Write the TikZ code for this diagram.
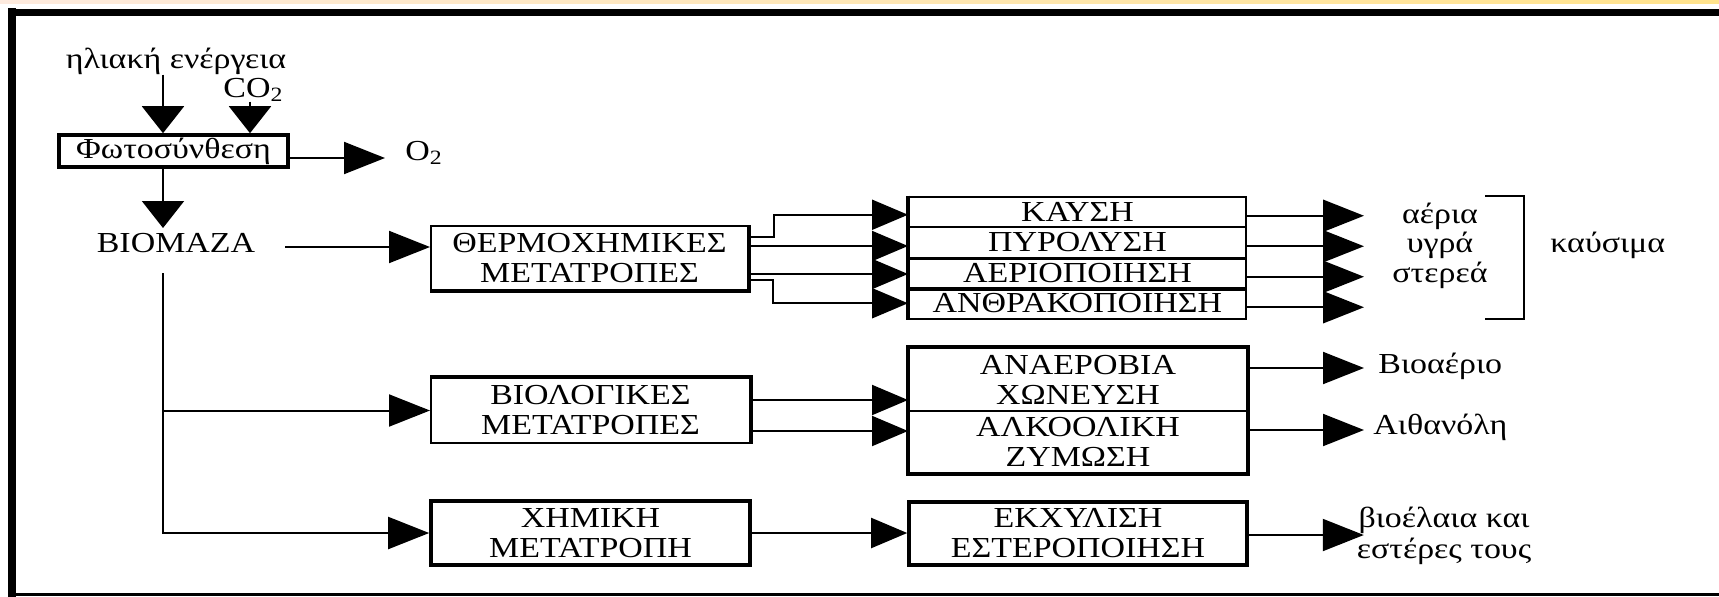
\documentclass[tikz,border=0pt]{standalone}
\usepackage{fontspec}
\setmainfont{Liberation Serif}[FakeStretch=1.17]
\usetikzlibrary{arrows.meta}
\definecolor{stripL}{RGB}{253,234,222}
\definecolor{stripR}{RGB}{255,227,140}
\begin{document}
\begin{tikzpicture}[x=0.5pt,y=-0.5pt,
  txt/.style={inner sep=0pt, font=\fontsize{14.5}{15}\selectfont},
  box/.style={draw, line width=1pt, inner sep=0pt, align=center, font=\fontsize{14.5}{15}\selectfont},
  thk/.style={line width=1.8pt},
  harr/.style={line width=1pt, -{Triangle[length=20.5pt,width=16pt]}},
  iarr/.style={line width=1pt, -{Triangle[length=18pt,width=15pt]}},
  varr/.style={line width=1pt, -{Triangle[length=13.5pt,width=21pt]}},
]
\useasboundingbox (0,0) rectangle (1719,596);
% frame
\begin{scope}
\clip (0,0) rectangle (1719,596);
\shade[left color=stripL, right color=stripR] (0,0) rectangle (1719,3.5);
\draw[line width=3.2pt] (8,12.3) -- (1730,12.3);
\draw[line width=3.8pt] (12.2,8) -- (12.2,600);
\draw[line width=1.5pt] (8,594.5) -- (1730,594.5);
\end{scope}

% boxes
\node[box, thk, minimum width=114.5pt, minimum height=16pt] (photo) at (173.5,151) {Φωτοσύνθεση};
\node[box, minimum width=158.5pt, minimum height=32pt] (thermo) at (589.5,258) {ΘΕΡΜΟΧΗΜΙΚΕΣ\\ΜΕΤΑΤΡΟΠΕΣ};
\draw[thk] (thermo.south west) -- (thermo.south east) -- (thermo.north east);
\node[box, minimum width=159.5pt, minimum height=32.5pt] (bioc) at (590.5,410.5) {ΒΙΟΛΟΓΙΚΕΣ\\ΜΕΤΑΤΡΟΠΕΣ};
\draw[thk] (bioc.north west) -- (bioc.north east) -- (bioc.south east);
\node[box, thk, minimum width=159.5pt, minimum height=32pt] (chem) at (590.5,533) {ΧΗΜΙΚΗ\\ΜΕΤΑΤΡΟΠΗ};

\node[box, minimum width=168.5pt, minimum height=15.25pt] (kay) at (1077.5,211.75) {ΚΑΥΣΗ};
\node[box, minimum width=168.5pt, minimum height=15.25pt] (pyr) at (1077.5,242.25) {ΠΥΡΟΛΥΣΗ};
\node[box, minimum width=168.5pt, minimum height=15.25pt] (aer) at (1077.5,272.75) {ΑΕΡΙΟΠΟΙΗΣΗ};
\node[box, minimum width=168.5pt, minimum height=15.25pt] (anth) at (1077.5,303.25) {ΑΝΘΡΑΚΟΠΟΙΗΣΗ};
\draw[thk] (kay.north west) -- (anth.south west);
\draw[thk] (pyr.south west) -- (pyr.south east);
\draw[thk] (aer.south west) -- (aer.south east);

\node[box, minimum width=169pt, minimum height=31.5pt] (an1) at (1078,379.5) {ΑΝΑΕΡΟΒΙΑ\\ΧΩΝΕΥΣΗ};
\node[box, minimum width=169pt, minimum height=31pt] (an2) at (1078,442) {ΑΛΚΟΟΛΙΚΗ\\ΖΥΜΩΣΗ};
\draw[thk] (an1.north west) rectangle (an2.south east);
\node[box, thk, minimum width=169pt, minimum height=31.5pt] (ext) at (1078,533.5) {ΕΚΧΥΛΙΣΗ\\ΕΣΤΕΡΟΠΟΙΗΣΗ};

% labels
\node[txt, anchor=base] (sun) at (176,68) {ηλιακή ενέργεια};
\node[txt, anchor=base west] (co2) at (223,97) {CO\textsubscript{2}};
\node[txt, anchor=base west] (o2) at (405,160) {O\textsubscript{2}};
\node[txt, anchor=base] (bio) at (176,252) {ΒΙΟΜΑΖΑ};
\node[txt, anchor=base] (gas) at (1440,223) {αέρια};
\node[txt, anchor=base] (liq) at (1440,252) {υγρά};
\node[txt, anchor=base] (sol) at (1440,282) {στερεά};
\node[txt, anchor=base west] (fuel) at (1550,252) {καύσιμα};
\node[txt, anchor=base west] (biogas) at (1378,373) {Βιοαέριο};
\node[txt, anchor=base west] (eth) at (1373,434) {Αιθανόλη};
\node[txt, anchor=base] (oil1) at (1444,527) {βιοέλαια και};
\node[txt, anchor=base] (oil2) at (1444,558) {εστέρες τους};
\draw[line width=1pt] (1485,196) -| (1524,319) -- (1485,319);

% coordinates
\coordinate (c1) at (163,0);
\coordinate (c2) at (250,0);
\coordinate (o2in) at (385,158);
\coordinate (bioTop) at (163,228);
\coordinate (b1) at (285,247);
\coordinate (b2) at (163,273);

% connectors
\draw[varr] (sun.south -| c1) -- (photo.north -| c1);
\draw[varr] (co2.south -| c2) -- (photo.north -| c2);
\draw[harr] (photo.east |- o2in) -- (o2in);
\draw[varr] (photo.south -| c1) -- (bioTop);
\draw[harr] (b1) -- (b1 -| thermo.west);
\draw[harr] (b2) |- (bioc.west);
\draw[harr] (b2) |- (chem.west);

\draw[iarr] ([yshift=10.5pt]thermo.east) -- ++(12.5pt,0) |- ([yshift=-1.5pt]kay.west);
\draw[iarr] ([yshift=6pt]thermo.east) -- ([yshift=6pt]thermo.east -| pyr.west);
\draw[iarr] ([yshift=-8pt]thermo.east) -- ([yshift=-8pt]thermo.east -| aer.west);
\draw[iarr] ([yshift=-11pt]thermo.east) -- ++(12pt,0) |- (anth.west);

\draw[harr] ([yshift=-2pt]kay.east) -- ++(58.5pt,0);
\draw[harr] ([yshift=-2pt]pyr.east) -- ++(58.5pt,0);
\draw[harr] ([yshift=-2pt]aer.east) -- ++(58.5pt,0);
\draw[harr] ([yshift=-2pt]anth.east) -- ++(58.5pt,0);

\draw[iarr] ([yshift=5.25pt]bioc.east) -- ([yshift=5.25pt]bioc.east -| an1.west);
\draw[iarr] ([yshift=-10.25pt]bioc.east) -- ([yshift=-10.25pt]bioc.east -| an2.west);
\draw[harr] ([yshift=5.75pt]an1.east) -- ++(58pt,0);
\draw[harr] ([yshift=6pt]an2.east) -- ++(58pt,0);
\draw[iarr] (chem.east) -- (chem.east -| ext.west);
\draw[harr] ([yshift=-0.75pt]ext.east) -- ++(57.5pt,0);
\end{tikzpicture}
\end{document}
